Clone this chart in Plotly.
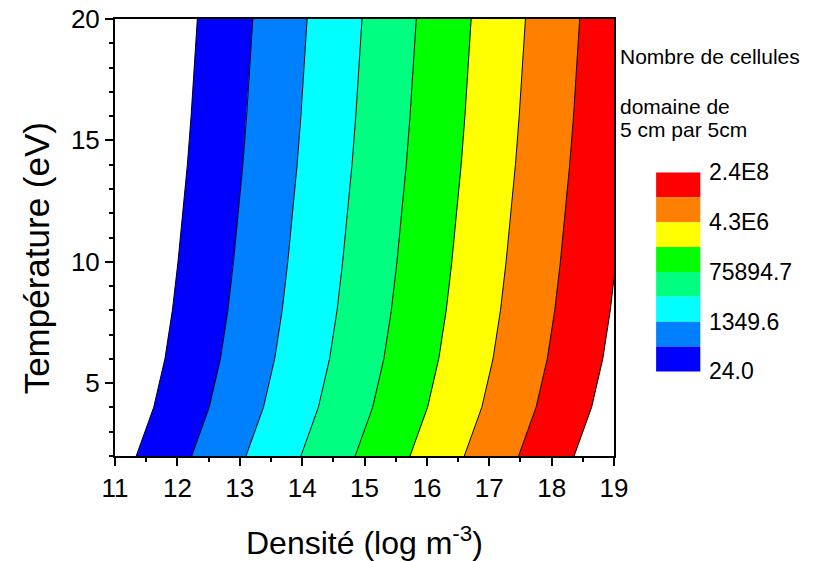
import plotly.graph_objects as go

# Temperature grid (eV) at which contour boundaries were read
temps = [2, 4, 6, 8, 10, 12, 14, 16, 18, 20]

# Contour boundary positions (log density) at each temperature
b1 = [11.34, 11.62, 11.80, 11.92, 12.01, 12.09, 12.16, 12.22, 12.27, 12.32]
b2 = [12.23, 12.51, 12.69, 12.81, 12.90, 12.98, 13.05, 13.11, 13.16, 13.21]
b3 = [13.10, 13.38, 13.56, 13.68, 13.77, 13.85, 13.92, 13.98, 14.03, 14.08]
b4 = [13.98, 14.26, 14.44, 14.56, 14.65, 14.73, 14.80, 14.86, 14.91, 14.96]
b5 = [14.85, 15.13, 15.31, 15.43, 15.52, 15.60, 15.67, 15.73, 15.78, 15.83]
b6 = [15.73, 16.01, 16.19, 16.31, 16.40, 16.48, 16.55, 16.61, 16.66, 16.71]
b7 = [16.60, 16.88, 17.06, 17.18, 17.27, 17.35, 17.42, 17.48, 17.53, 17.58]
b8 = [17.47, 17.75, 17.93, 18.05, 18.14, 18.22, 18.29, 18.35, 18.40, 18.45]
b9 = [18.36, 18.64, 18.82, 18.94, 19.03, 19.11, 19.18, 19.24, 19.29, 19.34]
boundaries = [b1, b2, b3, b4, b5, b6, b7, b8, b9]

band_colors = ["#0000FF", "#0080FF", "#00FFFF", "#00FF80",
               "#00FF00", "#FFFF00", "#FF8000", "#FF0000"]

legend_labels = ["24.0", "1349.6", "75894.7", "4.3E6", "2.4E8"]

FONT = "Arial, Liberation Sans, sans-serif"

W, H = 819, 561
L, R, T, B = 114.5, 614.5, 19.3, 456.3

fig = go.Figure()

# filled bands
for i, col in enumerate(band_colors):
    left = boundaries[i]
    right = boundaries[i + 1]
    xs = list(left) + list(reversed(right)) + [left[0]]
    ys = list(temps) + list(reversed(temps)) + [temps[0]]
    fig.add_trace(go.Scatter(x=xs, y=ys, mode="lines", fill="toself",
                             fillcolor=col, line=dict(width=0, color=col),
                             hoverinfo="skip", showlegend=False))

# boundary lines
for bd in boundaries:
    fig.add_trace(go.Scatter(x=bd, y=temps, mode="lines",
                             line=dict(color="black", width=1),
                             hoverinfo="skip", showlegend=False))

def px(xp):
    return (xp - L) / (R - L)

def py(yp):
    return (B - yp) / (B - T)

# legend colour boxes (top = red)
box_top, box_bot = 172.7, 371.7
bx0, bx1 = 656.7, 701.0
nb = len(band_colors)
h = (box_bot - box_top) / nb
shapes = []
for k, col in enumerate(reversed(band_colors)):
    y0 = box_top + k * h
    shapes.append(dict(type="rect", xref="paper", yref="paper",
                       x0=px(bx0), x1=px(bx1), y0=py(y0 + h), y1=py(y0),
                       fillcolor=col, line=dict(width=0)))

annotations = []
# legend labels, from bottom (24.0) upward at every other boundary
for j, lab in enumerate(legend_labels):
    yp = box_bot - j * 2 * h
    annotations.append(dict(x=px(708), y=py(yp), xref="paper", yref="paper",
                            text=lab, showarrow=False, xanchor="left",
                            yanchor="middle", font=dict(family=FONT, size=23, color="black")))

for txt, yy in [("Nombre de cellules", 57), ("domaine de", 107), ("5 cm par 5cm", 130)]:
    annotations.append(dict(x=px(619), y=py(yy), xref="paper", yref="paper",
                            text=txt, showarrow=False, xanchor="left",
                            yanchor="middle", font=dict(family=FONT, size=21, color="black")))

# axis titles as annotations for exact placement
annotations.append(dict(x=px(364.5), y=py(541), xref="paper", yref="paper",
                        text="Densité (log m<sup>-3</sup>)", showarrow=False,
                        xanchor="center", yanchor="middle",
                        font=dict(family=FONT, size=32, color="black")))
annotations.append(dict(x=px(36), y=py(259), xref="paper", yref="paper",
                        text="Température (eV)", showarrow=False, textangle=-90,
                        xanchor="center", yanchor="middle",
                        font=dict(family=FONT, size=35, color="black")))

fig.update_layout(
    width=W, height=H,
    margin=dict(l=L, r=W - R, t=T, b=H - B, autoexpand=False),
    paper_bgcolor="white", plot_bgcolor="white",
    shapes=shapes, annotations=annotations,
    font=dict(family=FONT, color="black"),
    showlegend=False,
)

fig.update_xaxes(range=[11, 19], tickmode="array",
                 tickvals=[11, 12, 13, 14, 15, 16, 17, 18, 19],
                 ticks="outside", ticklen=8, tickwidth=1.5, tickcolor="black",
                 minor=dict(ticks="outside", ticklen=4, tickwidth=1.5,
                            tickcolor="black", dtick=0.5),
                 showline=True, linecolor="black", linewidth=2, mirror=True,
                 showgrid=False, zeroline=False,
                 tickfont=dict(family=FONT, size=26, color="black"))

fig.update_yaxes(range=[2, 20], tickmode="array", tickvals=[5, 10, 15, 20],
                 ticks="outside", ticklen=8, tickwidth=1.5, tickcolor="black",
                 minor=dict(ticks="outside", ticklen=4, tickwidth=1.5,
                            tickcolor="black", tickvals=list(range(2, 21))),
                 showline=True, linecolor="black", linewidth=2, mirror=True,
                 showgrid=False, zeroline=False,
                 tickfont=dict(family=FONT, size=26, color="black"))

fig.write_html("out.html", config={"displayModeBar": False},
               post_script="document.body.style.margin='0px';")
